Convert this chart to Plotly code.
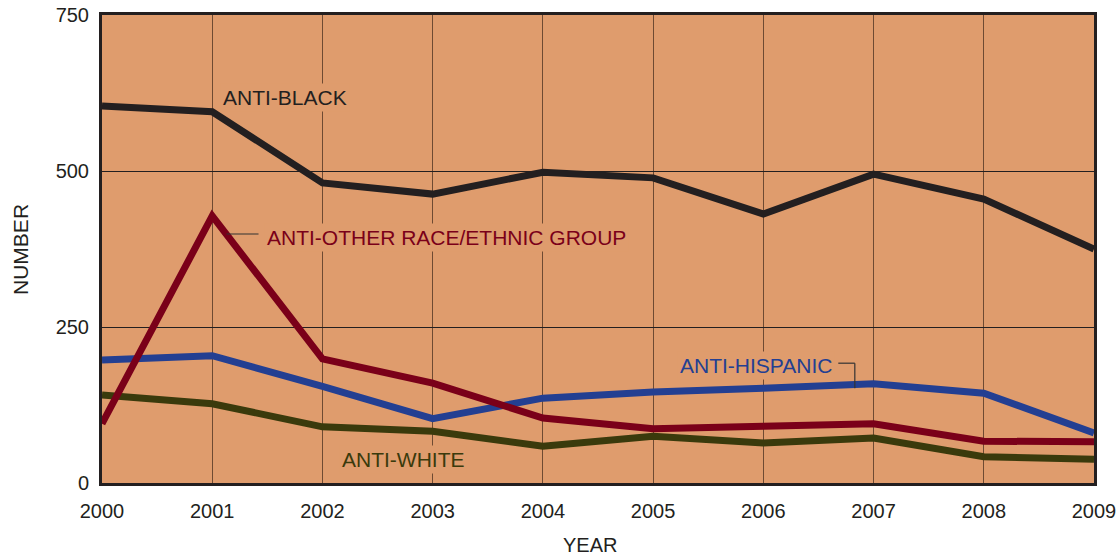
import plotly.graph_objects as go

years = [2000, 2001, 2002, 2003, 2004, 2005, 2006, 2007, 2008, 2009]
anti_black = [604, 595, 481, 463, 498, 489, 431, 495, 455, 375]
anti_other = [95, 428, 199, 160, 104, 87, 91, 95, 67, 66]
anti_hispanic = [197, 204, 155, 103, 136, 146, 152, 159, 144, 80]
anti_white = [141, 127, 90, 83, 59, 75, 64, 72, 42, 38]
y_ticks = [0, 250, 500, 750]

C_BLACK = "#231f20"
C_RED = "#7a0019"
C_BLUE = "#233f92"
C_GREEN = "#3a3a0c"
BG = "#df9c6d"
FONT = "Liberation Sans, Arial, sans-serif"

fig = go.Figure()
for vals, col in [(anti_white, C_GREEN), (anti_hispanic, C_BLUE),
                  (anti_other, C_RED), (anti_black, C_BLACK)]:
    fig.add_trace(go.Scatter(x=years, y=vals, mode="lines",
                             line=dict(color=col, width=7),
                             showlegend=False, hoverinfo="skip"))

def label(text, x, y, color):
    fig.add_annotation(x=x, y=y, xref="x", yref="y", text=text, showarrow=False,
                       xanchor="left", yanchor="middle",
                       font=dict(family=FONT, size=21, color=color),
                       bgcolor=BG, borderpad=2)

label("ANTI-BLACK", 2001.07, 617, C_BLACK)
label("ANTI-OTHER RACE/ETHNIC GROUP", 2001.47, 393, C_RED)
label("ANTI-HISPANIC", 2005.22, 189, C_BLUE)
label("ANTI-WHITE", 2002.15, 38, C_GREEN)

# leader lines
fig.add_shape(type="line", x0=2001.13, x1=2001.42, y0=399, y1=399,
              line=dict(color="#333333", width=1.2))
fig.add_shape(type="line", x0=2006.68, x1=2006.83, y0=192, y1=192,
              line=dict(color="#333333", width=1.2))
fig.add_shape(type="line", x0=2006.83, x1=2006.83, y0=192, y1=152,
              line=dict(color="#333333", width=1.2))

fig.add_annotation(text="NUMBER", xref="paper", yref="paper", x=-0.0827, y=0.5,
                   textangle=-90, showarrow=False, xanchor="center", yanchor="middle",
                   font=dict(family=FONT, size=21, color=C_BLACK))
fig.add_annotation(text="YEAR", xref="paper", yref="paper", x=0.492, y=-0.1325,
                   showarrow=False, xanchor="center", yanchor="middle",
                   font=dict(family=FONT, size=20, color=C_BLACK))

fig.update_xaxes(range=[2000, 2009], tickvals=years, ticktext=[str(y) for y in years],
                 showgrid=True, gridcolor="#6e4a32", gridwidth=1,
                 showline=True, mirror=True, linecolor=C_BLACK, linewidth=3,
                 ticks="outside", ticklen=8, tickcolor="rgba(0,0,0,0)",
                 tickfont=dict(family=FONT, size=20, color=C_BLACK), zeroline=False,
                 automargin=False)
fig.update_yaxes(range=[0, 750], tickvals=y_ticks,
                 showgrid=True, gridcolor=C_BLACK, gridwidth=1,
                 showline=True, mirror=True, linecolor=C_BLACK, linewidth=3,
                 ticks="outside", ticklen=6, tickcolor="rgba(0,0,0,0)",
                 tickfont=dict(family=FONT, size=20, color=C_BLACK), zeroline=False,
                 automargin=False)

fig.update_layout(width=1119, height=559, plot_bgcolor=BG, paper_bgcolor="white",
                  margin=dict(l=102, r=25, t=15, b=76, autoexpand=False), showlegend=False)

fig.write_html("out.html", config={"displayModeBar": False},
               post_script="document.body.style.margin='0';document.body.style.overflow='hidden';")
